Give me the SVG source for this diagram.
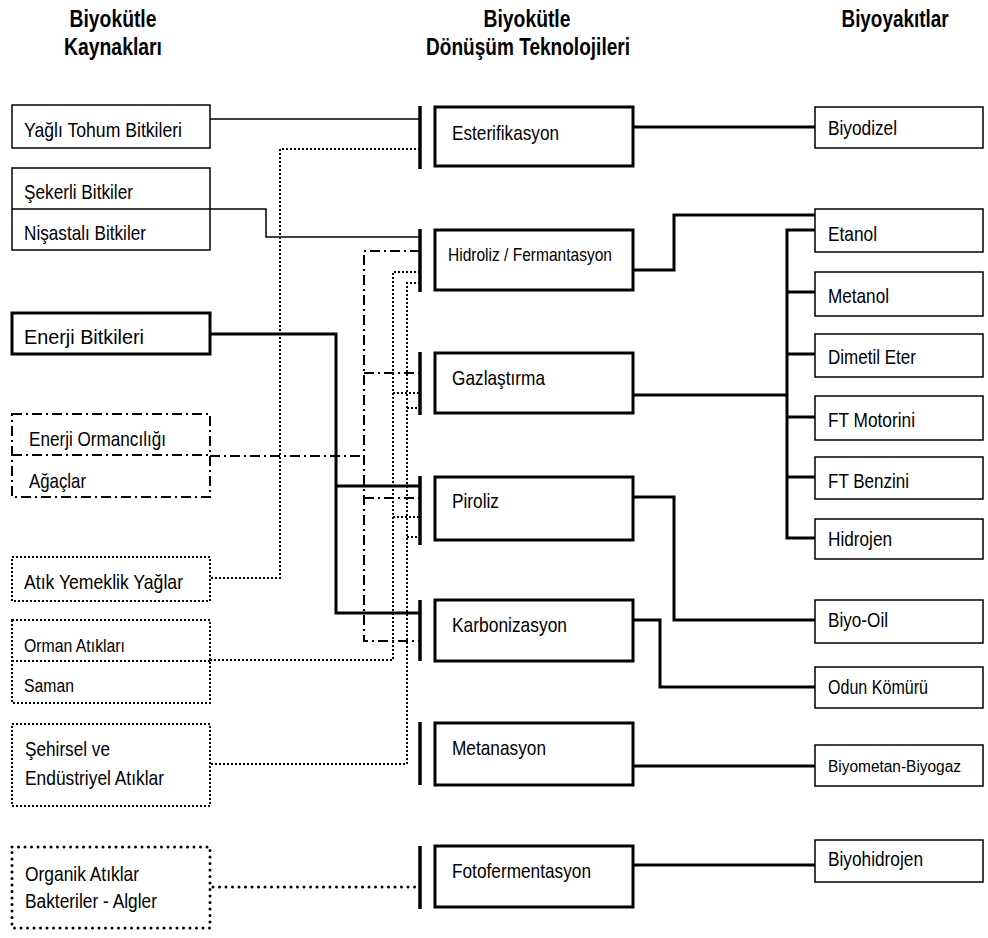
<svg xmlns="http://www.w3.org/2000/svg" width="988" height="938" viewBox="0 0 988 938">
<style>
text{font-family:"Liberation Sans",Arial,sans-serif;font-size:21px;fill:#000}
.h{font-weight:bold;font-size:23px;text-anchor:middle}
.sm{font-size:19px}
.xs{font-size:16px}
.b{fill:#fff;stroke:#000;stroke-width:1.5}
.bt{fill:#fff;stroke:#000;stroke-width:3}
.bdd{fill:#fff;stroke:#000;stroke-width:2;stroke-dasharray:10 4 2 4}
.bdot{fill:#fff;stroke:#000;stroke-width:2;stroke-dasharray:2 2}
.bco{fill:#fff;stroke:#000;stroke-width:3;stroke-dasharray:0 6.5;stroke-linecap:round}
.c{fill:none;stroke:#000}
.thin{stroke-width:1.5}
.thk{stroke-width:3}
.dd{stroke-width:2;stroke-dasharray:10 4 2 4}
.dot{stroke-width:2;stroke-dasharray:2 2}
.co{stroke-width:3;stroke-dasharray:0 6.5;stroke-linecap:round}
.bar{stroke:#000;stroke-width:3.5}
</style>

<g id="headers">
<text class="h" x="113" y="27" textLength="87" lengthAdjust="spacingAndGlyphs">Biyokütle</text>
<text class="h" x="113" y="55" textLength="98" lengthAdjust="spacingAndGlyphs">Kaynakları</text>
<text class="h" x="527" y="27" textLength="87" lengthAdjust="spacingAndGlyphs">Biyokütle</text>
<text class="h" x="528" y="55" textLength="204" lengthAdjust="spacingAndGlyphs">Dönüşüm Teknolojileri</text>
<text class="h" x="895" y="27" textLength="107" lengthAdjust="spacingAndGlyphs">Biyoyakıtlar</text>
</g>

<g id="connectors">
<path class="c thin" d="M210,119 H420"/>
<path class="c thin" d="M210,209 H266 V237 H420"/>
<path class="c dot" d="M420,149 H280 V578 H210"/>
<path class="c dot" d="M420,272 H393 V660 H210"/>
<path class="c dot" d="M420,283 H407 V764 H210"/>
<path class="c dot" d="M393,393 H420 M393,517 H420 M407,408 H420 M407,537 H420"/>
<path class="c dd" d="M420,251 H364 V641 H420"/>
<path class="c dd" d="M210,456 H364"/>
<path class="c dd" d="M364,373 H420 M364,498 H420"/>
<path class="c thk" d="M210,334 H336 V613 H420 M336,486 H420"/>
<path class="c co" d="M213,887 H418"/>
<path class="c thk" d="M633,127 H815"/>
<path class="c thk" d="M633,270 H674 V215 H815"/>
<path class="c thk" d="M633,395 H787"/>
<path class="c thk" d="M815,230 H787 V538 H815 M787,292 H815 M787,354 H815 M787,417 H815 M787,477 H815"/>
<path class="c thk" d="M633,497 H674 V620 H815"/>
<path class="c thk" d="M633,620 H660 V687 H815"/>
<path class="c thk" d="M633,766 H815"/>
<path class="c thk" d="M633,865 H815"/>
<g id="bars">
<line class="bar" x1="420" y1="106" x2="420" y2="169"/>
<line class="bar" x1="420" y1="229" x2="420" y2="292"/>
<line class="bar" x1="420" y1="352" x2="420" y2="415"/>
<line class="bar" x1="420" y1="476" x2="420" y2="545"/>
<line class="bar" x1="420" y1="600" x2="420" y2="661"/>
<line class="bar" x1="420" y1="722" x2="420" y2="785"/>
<line class="bar" x1="420" y1="846" x2="420" y2="909"/>
</g>
</g>

<g id="src-yagli"><rect class="b" x="12" y="105" width="198" height="43"/><text x="24" y="137" textLength="158" lengthAdjust="spacingAndGlyphs">Yağlı Tohum Bitkileri</text></g>
<g id="src-seker"><rect class="b" x="12" y="168" width="198" height="82"/><line class="c thin" x1="12" y1="209" x2="210" y2="209"/><text x="24" y="199" textLength="109" lengthAdjust="spacingAndGlyphs">Şekerli Bitkiler</text><text x="24" y="240" textLength="122" lengthAdjust="spacingAndGlyphs">Nişastalı Bitkiler</text></g>
<g id="src-enerji"><rect class="bt" x="12" y="313" width="198" height="41"/><text x="24" y="344" textLength="120" lengthAdjust="spacingAndGlyphs">Enerji Bitkileri</text></g>
<g id="src-orman"><rect class="bdd" x="12" y="414" width="198" height="83"/><line class="c dd" x1="12" y1="455" x2="210" y2="455"/><text x="29" y="446" textLength="137" lengthAdjust="spacingAndGlyphs">Enerji Ormancılığı</text><text x="29" y="488" textLength="57" lengthAdjust="spacingAndGlyphs">Ağaçlar</text></g>
<g id="src-atik"><rect class="bdot" x="12" y="557" width="198" height="44"/><text x="24" y="589" textLength="159" lengthAdjust="spacingAndGlyphs">Atık Yemeklik Yağlar</text></g>
<g id="src-ormatik"><rect class="bdot" x="12" y="620" width="198" height="83"/><line class="c dot" x1="12" y1="661" x2="210" y2="661"/><text class="sm" x="24" y="652" textLength="101" lengthAdjust="spacingAndGlyphs">Orman Atıkları</text><text class="sm" x="24" y="692" textLength="50" lengthAdjust="spacingAndGlyphs">Saman</text></g>
<g id="src-sehir"><rect class="bdot" x="12" y="724" width="198" height="82"/><text x="25" y="756" textLength="85" lengthAdjust="spacingAndGlyphs">Şehirsel ve</text><text x="25" y="785" textLength="139" lengthAdjust="spacingAndGlyphs">Endüstriyel Atıklar</text></g>
<g id="src-organik"><rect class="bco" x="12" y="847" width="198" height="81"/><text x="25" y="881" textLength="114" lengthAdjust="spacingAndGlyphs">Organik Atıklar</text><text x="25" y="908" textLength="132" lengthAdjust="spacingAndGlyphs">Bakteriler - Algler</text></g>

<g id="tec-ester"><rect class="bt" x="435" y="107" width="198" height="59"/><text x="452" y="140" textLength="107" lengthAdjust="spacingAndGlyphs">Esterifikasyon</text></g>
<g id="tec-hidroliz"><rect class="bt" x="435" y="230" width="198" height="60"/><text class="sm" x="448" y="261" textLength="164" lengthAdjust="spacingAndGlyphs">Hidroliz / Fermantasyon</text></g>
<g id="tec-gaz"><rect class="bt" x="435" y="353" width="198" height="60"/><text x="452" y="385" textLength="93" lengthAdjust="spacingAndGlyphs">Gazlaştırma</text></g>
<g id="tec-piroliz"><rect class="bt" x="435" y="477" width="198" height="63"/><text x="452" y="508" textLength="47" lengthAdjust="spacingAndGlyphs">Piroliz</text></g>
<g id="tec-karbon"><rect class="bt" x="435" y="600" width="198" height="61"/><text x="452" y="632" textLength="115" lengthAdjust="spacingAndGlyphs">Karbonizasyon</text></g>
<g id="tec-metan"><rect class="bt" x="435" y="723" width="198" height="62"/><text x="452" y="755" textLength="94" lengthAdjust="spacingAndGlyphs">Metanasyon</text></g>
<g id="tec-foto"><rect class="bt" x="435" y="846" width="198" height="61"/><text x="452" y="878" textLength="139" lengthAdjust="spacingAndGlyphs">Fotofermentasyon</text></g>

<g id="fuel-biyodizel"><rect class="b" x="815" y="107" width="168" height="41"/><text x="828" y="135" textLength="69" lengthAdjust="spacingAndGlyphs">Biyodizel</text></g>
<g id="fuel-etanol"><rect class="b" x="815" y="209" width="168" height="43"/><text x="828" y="241" textLength="49" lengthAdjust="spacingAndGlyphs">Etanol</text></g>
<g id="fuel-metanol"><rect class="b" x="815" y="272" width="168" height="44"/><text x="828" y="303" textLength="61" lengthAdjust="spacingAndGlyphs">Metanol</text></g>
<g id="fuel-dme"><rect class="b" x="815" y="334" width="168" height="43"/><text x="828" y="364" textLength="88" lengthAdjust="spacingAndGlyphs">Dimetil Eter</text></g>
<g id="fuel-ftm"><rect class="b" x="815" y="396" width="168" height="44"/><text x="828" y="427" textLength="87" lengthAdjust="spacingAndGlyphs">FT Motorini</text></g>
<g id="fuel-ftb"><rect class="b" x="815" y="457" width="168" height="42"/><text x="828" y="488" textLength="81" lengthAdjust="spacingAndGlyphs">FT Benzini</text></g>
<g id="fuel-hidrojen"><rect class="b" x="815" y="519" width="168" height="40"/><text x="828" y="546" textLength="64" lengthAdjust="spacingAndGlyphs">Hidrojen</text></g>
<g id="fuel-biyooil"><rect class="b" x="815" y="600" width="168" height="43"/><text x="828" y="627" textLength="60" lengthAdjust="spacingAndGlyphs">Biyo-Oil</text></g>
<g id="fuel-odun"><rect class="b" x="815" y="667" width="168" height="41"/><text x="828" y="694" textLength="100" lengthAdjust="spacingAndGlyphs">Odun Kömürü</text></g>
<g id="fuel-biyometan"><rect class="b" x="815" y="745" width="168" height="41"/><text class="xs" x="828" y="772" textLength="133" lengthAdjust="spacingAndGlyphs">Biyometan-Biyogaz</text></g>
<g id="fuel-biyohidrojen"><rect class="b" x="815" y="840" width="168" height="42"/><text x="828" y="866" textLength="95" lengthAdjust="spacingAndGlyphs">Biyohidrojen</text></g>
</svg>
